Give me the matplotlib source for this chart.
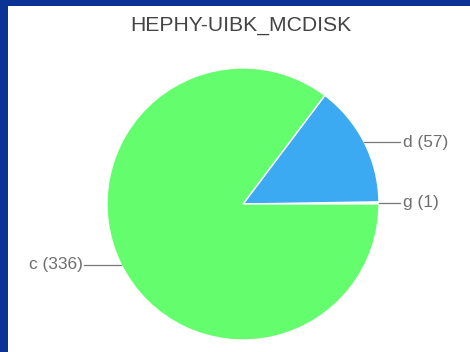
import numpy as np
import matplotlib
matplotlib.use("Agg")
import matplotlib.pyplot as plt
from matplotlib.patches import Rectangle

title = "HEPHY-UIBK_MCDISK"
categories = ["g", "d", "c"]
values = [1, 57, 336]
colors = ["#e8f4ff", "#3caaf2", "#64fd6e"]

W, H = 470, 352
fig = plt.figure(figsize=(W / 100, H / 100), dpi=100)
fig.patch.set_facecolor("white")

# blue frame (top and left)
fig.patches.append(Rectangle((0, 1 - 6 / H), 1, 6 / H, transform=fig.transFigure,
                             facecolor="#0b3396", edgecolor="none", zorder=0))
fig.patches.append(Rectangle((0, 0), 8 / W, 1, transform=fig.transFigure,
                             facecolor="#0b3396", edgecolor="none", zorder=0))

cx, cy, r = 243, 204, 136
ax = fig.add_axes([(cx - r) / W, (H - cy - r) / H, 2 * r / W, 2 * r / H])
wedges, _ = ax.pie(values, colors=colors, startangle=0, counterclock=True,
                   radius=1, wedgeprops=dict(edgecolor="white", linewidth=1))
ax.set_xlim(-1, 1)
ax.set_ylim(-1, 1)
ax.set_aspect("equal")
ax.axis("off")

for w, cat, v in zip(wedges, categories, values):
    mid = np.deg2rad((w.theta1 + w.theta2) / 2)
    x0, y0 = np.cos(mid), np.sin(mid)
    if x0 >= 0:
        xe, xt, ha = 1.154, 1.175, "left"
    else:
        xe, xt, ha = -1.17, -1.178, "right"
    ax.plot([x0, xe], [y0, y0], color="#777777", lw=0.9, clip_on=False)
    ax.text(xt, y0, f"{cat} ({v})", ha=ha, va="center", fontsize=12.4,
            family="Liberation Sans", color="#6e6e6e", clip_on=False)

fig.text(240.5 / W, 1 - 31 / H, title, ha="center", va="baseline",
         fontsize=15.2, family="Liberation Sans", color="#444444")

fig.savefig("out.png", dpi=100, facecolor=fig.get_facecolor())
